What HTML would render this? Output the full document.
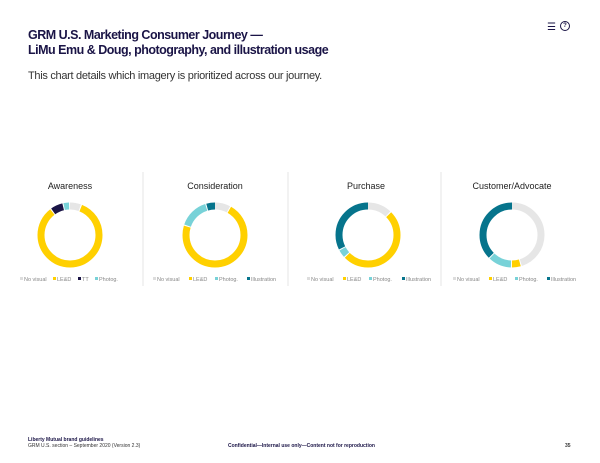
<!DOCTYPE html>
<html><head><style>
body{margin:0;width:600px;height:463px;background:#fff;font-family:"Liberation Sans",sans-serif;position:relative;overflow:hidden}
.t{position:absolute;left:28px;top:28px;font-size:12.5px;font-weight:bold;color:#1a1446;line-height:15px;letter-spacing:-0.5px}
.s{position:absolute;left:28px;top:70px;font-size:11px;color:#333;letter-spacing:-0.3px}
.f{position:absolute;font-size:5px;color:#333}
</style></head><body>
<div class="t">GRM U.S. Marketing Consumer Journey —<br>LiMu Emu &amp; Doug, photography, and illustration usage</div>
<div class="s">This chart details which imagery is prioritized across our journey.</div>
<div style="position:absolute;left:547px;top:22px;font-size:10px;color:#1a1446">☰</div>
<div style="position:absolute;left:560px;top:21px;width:8px;height:8px;border:1.5px solid #1a1446;border-radius:50%;font-size:6px;text-align:center;line-height:8px;font-weight:bold;color:#1a1446">?</div>
<svg width="600" height="463" style="position:absolute;left:0;top:0" font-family="Liberation Sans, sans-serif">
<g stroke="#e4e4e4" stroke-width="1"><line x1="143" y1="172" x2="143" y2="286"/><line x1="288" y1="172" x2="288" y2="286"/><line x1="441" y1="172" x2="441" y2="286"/></g>
<g font-size="9" fill="#222" text-anchor="middle"><text x="70" y="189">Awareness</text><text x="215" y="189">Consideration</text><text x="366" y="189">Purchase</text><text x="512" y="189">Customer/Advocate</text></g>
<defs><g id="x"></g></defs>
<!-- donuts: circumference 2*pi*29=182.2 -->
<g fill="none" stroke-width="7">
<g transform="translate(70,235) rotate(-90)">
<circle r="29" stroke="#e6e6e6" stroke-dasharray="10 172.2" stroke-dashoffset="0"/>
<circle r="29" stroke="#FFD000" stroke-dasharray="152 30.2" stroke-dashoffset="-11"/>
<circle r="29" stroke="#1a1446" stroke-dasharray="11 171.2" stroke-dashoffset="-164"/>
<circle r="29" stroke="#78d2d8" stroke-dasharray="5 177.2" stroke-dashoffset="-176"/>
</g>
<g transform="translate(215,235) rotate(-90)">
<circle r="29" stroke="#e6e6e6" stroke-dasharray="14 168.2" stroke-dashoffset="0"/>
<circle r="29" stroke="#FFD000" stroke-dasharray="130 52.2" stroke-dashoffset="-15"/>
<circle r="29" stroke="#78d2d8" stroke-dasharray="27 155.2" stroke-dashoffset="-146"/>
<circle r="29" stroke="#06748c" stroke-dasharray="8 174.2" stroke-dashoffset="-174"/>
</g>
<g transform="translate(368,235) rotate(-90)">
<circle r="29" stroke="#e6e6e6" stroke-dasharray="22 160.2" stroke-dashoffset="0"/>
<circle r="29" stroke="#FFD000" stroke-dasharray="91 91.2" stroke-dashoffset="-23"/>
<circle r="29" stroke="#78d2d8" stroke-dasharray="7 175.2" stroke-dashoffset="-115"/>
<circle r="29" stroke="#06748c" stroke-dasharray="59 123.2" stroke-dashoffset="-123"/>
</g>
<g transform="translate(512,235) rotate(-90)">
<circle r="29" stroke="#e6e6e6" stroke-dasharray="82 100.2" stroke-dashoffset="0"/>
<circle r="29" stroke="#FFD000" stroke-dasharray="8 174.2" stroke-dashoffset="-83"/>
<circle r="29" stroke="#78d2d8" stroke-dasharray="21 161.2" stroke-dashoffset="-92"/>
<circle r="29" stroke="#06748c" stroke-dasharray="68 114.2" stroke-dashoffset="-114"/>
</g>
</g>
<g font-size="5.5" fill="#888">
<rect x="20" y="277" width="3" height="3" fill="#ddd"/><text x="24" y="281">No visual</text>
<rect x="53" y="277" width="3" height="3" fill="#FFD000"/><text x="57" y="281">LE&amp;D</text>
<rect x="78" y="277" width="3" height="3" fill="#1a1446"/><text x="82" y="281">TT</text>
<rect x="95" y="277" width="3" height="3" fill="#78d2d8"/><text x="99" y="281">Photog.</text>
<rect x="153" y="277" width="3" height="3" fill="#ddd"/><text x="157" y="281">No visual</text>
<rect x="189" y="277" width="3" height="3" fill="#FFD000"/><text x="193" y="281">LE&amp;D</text>
<rect x="215" y="277" width="3" height="3" fill="#78d2d8"/><text x="219" y="281">Photog.</text>
<rect x="247" y="277" width="3" height="3" fill="#06748c"/><text x="251" y="281">Illustration</text>
<rect x="307" y="277" width="3" height="3" fill="#ddd"/><text x="311" y="281">No visual</text>
<rect x="343" y="277" width="3" height="3" fill="#FFD000"/><text x="347" y="281">LE&amp;D</text>
<rect x="369" y="277" width="3" height="3" fill="#78d2d8"/><text x="373" y="281">Photog.</text>
<rect x="402" y="277" width="3" height="3" fill="#06748c"/><text x="406" y="281">Illustration</text>
<rect x="453" y="277" width="3" height="3" fill="#ddd"/><text x="457" y="281">No visual</text>
<rect x="489" y="277" width="3" height="3" fill="#FFD000"/><text x="493" y="281">LE&amp;D</text>
<rect x="515" y="277" width="3" height="3" fill="#78d2d8"/><text x="519" y="281">Photog.</text>
<rect x="547" y="277" width="3" height="3" fill="#06748c"/><text x="551" y="281">Illustration</text>
</g>
</svg>
<div class="f" style="left:28px;top:437px;font-weight:bold;color:#1a1446">Liberty Mutual brand guidelines</div>
<div class="f" style="left:28px;top:443px">GRM U.S. section – September 2020 (Version 2.3)</div>
<div class="f" style="left:228px;top:443px;font-weight:bold;color:#1a1446">Confidential—Internal use only—Content not for reproduction</div>
<div class="f" style="left:565px;top:443px;font-weight:bold">35</div>
</body></html>
